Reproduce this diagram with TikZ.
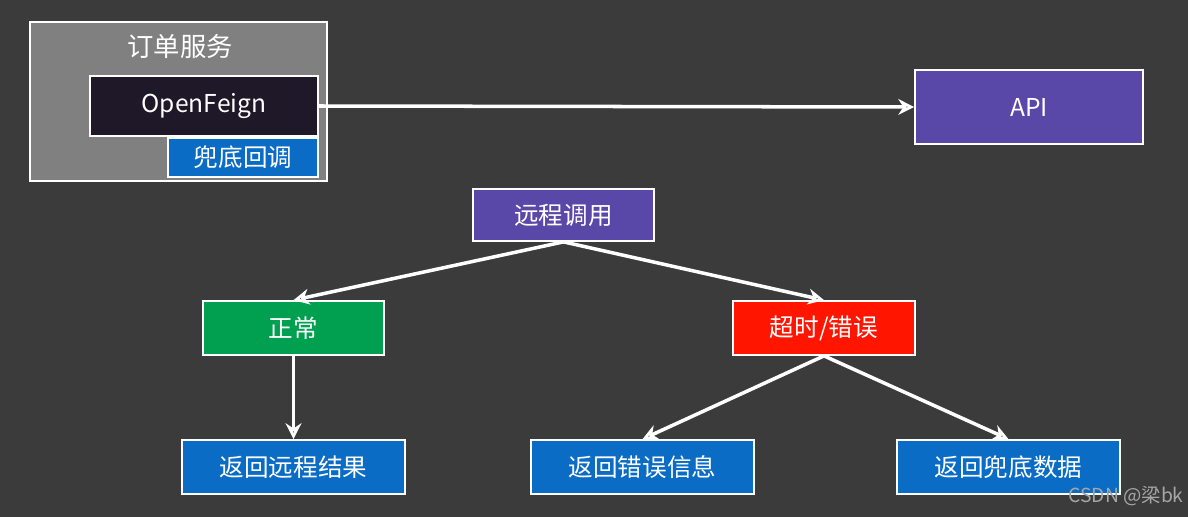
\documentclass[tikz,border=0pt]{standalone}
\usepackage{fontspec}
\setmainfont{Noto Sans CJK SC}
\usetikzlibrary{arrows.meta}
\definecolor{bg}{HTML}{3B3B3B}
\definecolor{boxgray}{HTML}{808080}
\definecolor{dark}{HTML}{1E1828}
\definecolor{bl}{HTML}{0A6CC4}
\definecolor{pu}{HTML}{5A48A8}
\definecolor{gr}{HTML}{00A050}
\definecolor{rd}{HTML}{FF1500}
\begin{document}
\begin{tikzpicture}[x=0.02cm,y=-0.02cm,
 bx/.style={draw=white,line width=1pt,text=white,font=\fontsize{14}{16}\selectfont,inner sep=0},
 ar/.style={draw=white,line width=2pt,-{Stealth[length=9pt,width=9pt,open]}}]
\fill[bg] (0,0) rectangle (1188,517);
\useasboundingbox (0,0) rectangle (1188,517);
\node[bx,fill=boxgray,minimum width=297*0.02cm,minimum height=159*0.02cm] (svc) at (178.5,101.5) {};
\node[text=white,font=\fontsize{15}{17}\selectfont] (svct) at (180,46) {订单服务};
\node[bx,fill=dark,minimum width=228*0.02cm,minimum height=60*0.02cm] (of) at (204,106) {OpenFeign};
\node[bx,fill=bl,minimum width=150*0.02cm,minimum height=39*0.02cm] (fb) at (243,157.5) {兜底回调};
\node[bx,fill=pu,minimum width=228*0.02cm,minimum height=74*0.02cm] (api) at (1029,107) {API};
\node[bx,fill=pu,minimum width=181*0.02cm,minimum height=52*0.02cm] (rc) at (563.5,215) {远程调用};
\node[bx,fill=gr,minimum width=181*0.02cm,minimum height=54*0.02cm] (ok) at (293.5,328) {正常};
\node[bx,fill=rd,minimum width=182*0.02cm,minimum height=54*0.02cm] (err) at (824,328) {超时/错误};
\node[bx,fill=bl,minimum width=223*0.02cm,minimum height=54*0.02cm] (r1) at (293.5,467) {返回远程结果};
\node[bx,fill=bl,minimum width=223*0.02cm,minimum height=54*0.02cm] (r2) at (642.5,467) {返回错误信息};
\node[bx,fill=bl,minimum width=223*0.02cm,minimum height=54*0.02cm] (r3) at (1008.5,467) {返回兜底数据};
\node[text=gray!70,font=\fontsize{11}{13}\selectfont,anchor=east,inner sep=0] (wm) at (1184,496) {CSDN @梁bk};
\draw[ar] (of.east) -- (api.west);
\draw[ar] (rc.south) -- (ok.north);
\draw[ar] (rc.south) -- (err.north);
\draw[ar] (ok.south) -- (r1.north);
\draw[ar] (err.south) -- (r2.north);
\draw[ar] (err.south) -- (r3.north);
\end{tikzpicture}
\end{document}
